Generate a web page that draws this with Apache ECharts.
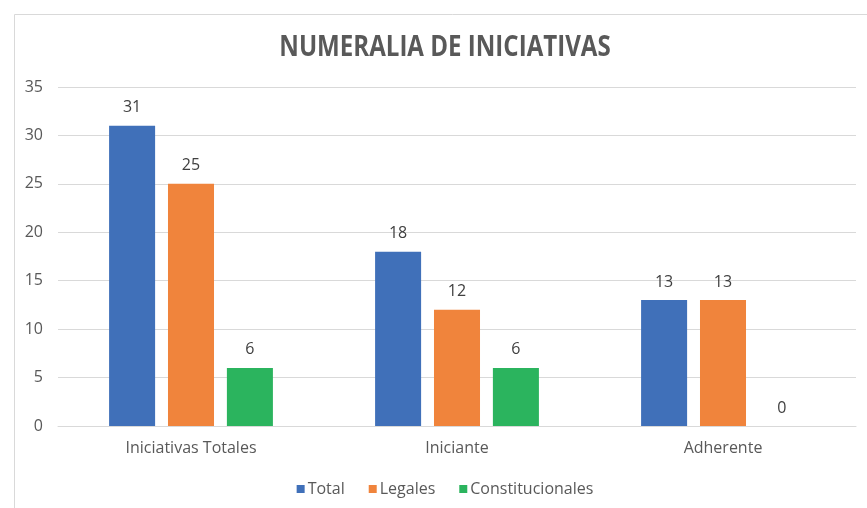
<!DOCTYPE html>
<html><head><meta charset="utf-8">
<script src="https://cdn.jsdelivr.net/npm/echarts@6/dist/echarts.min.js"></script>
<style>html,body{margin:0;padding:0;background:#fff;overflow:hidden}body{width:867px;height:508px}#c{width:890px;height:508px}</style>
</head><body><div id="c"></div>
<script>
const categories = ['Iniciativas Totales', 'Iniciante', 'Adherente'];
const seriesNames = ['Total', 'Legales', 'Constitucionales'];
const totalValues = [31, 18, 13];
const legalesValues = [25, 12, 13];
const constitucionalesValues = [6, 6, 0];
const chartTitle = 'NUMERALIA DE INICIATIVAS';
const colors = ['#4070B9', '#F0843C', '#2BB45E'];
const font = '"Open Sans", sans-serif';

const chart = echarts.init(document.getElementById('c'));
const values = [totalValues, legalesValues, constitucionalesValues];
chart.setOption({
  animation: false,
  color: colors,
  graphic: [
    { type: 'rect', left: 12, top: 12, shape: { width: 900, height: 600 },
      style: { fill: 'none', stroke: '#d9d9d9', lineWidth: 1 }, silent: true },
    { type: 'text', x: 445, y: 48, scaleX: 0.86, silent: true,
      style: { text: chartTitle, font: 'bold 28px "Open Sans", sans-serif', fill: '#595959',
        align: 'center', verticalAlign: 'middle' } }
  ],
  legend: { bottom: 6, left: 'center', icon: 'rect', itemWidth: 8, itemHeight: 8, itemGap: 24,
    textStyle: { fontFamily: font, fontSize: 16, color: '#595959', padding: [0, 0, 0, -2] }, data: seriesNames },
  grid: { left: 58, right: 34, top: 87, bottom: 82 },
  xAxis: { type: 'category', data: categories,
    axisLine: { lineStyle: { color: '#d9d9d9' } }, axisTick: { show: false },
    axisLabel: { fontFamily: font, fontSize: 16, color: '#595959', margin: 14 } },
  yAxis: { type: 'value', min: 0, max: 35, interval: 5,
    axisLine: { show: false }, axisTick: { show: false },
    splitLine: { lineStyle: { color: '#d9d9d9' } },
    axisLabel: { fontFamily: font, fontSize: 16, color: '#595959', margin: 15 } },
  series: seriesNames.map((n, i) => ({
    name: n, type: 'bar', data: values[i], barWidth: '17.3%', barGap: '28%',
    label: { show: true, position: 'top', distance: 10, fontFamily: font, fontSize: 16, color: '#404040' }
  }))
});
</script></body></html>
